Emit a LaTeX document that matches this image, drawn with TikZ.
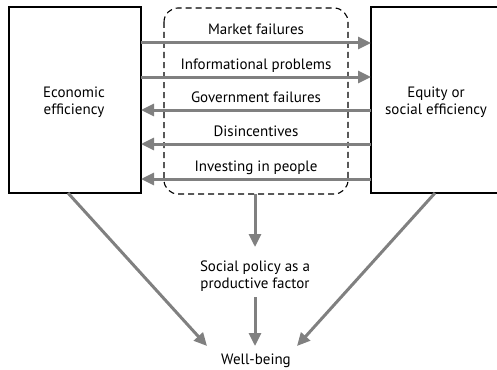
\documentclass[tikz,border=0pt]{standalone}
\usepackage{fontspec}
\setmainfont{PT Sans}
\usetikzlibrary{arrows.meta}
\begin{document}
\begin{tikzpicture}[x=1pt,y=-1pt,
  box/.style={draw=black,line width=1.4pt,fill=white},
  flow/.style={draw=black!50,line width=3pt,-{Triangle[length=13pt,width=12pt]}},
  lbl/.style={font=\fontsize{15}{17}\selectfont,inner sep=0pt,anchor=base,align=center},
  zone/.style={draw=black,line width=1.1pt,dash pattern=on 6pt off 4pt,rounded corners=14pt}]
\useasboundingbox (0,0) rectangle (497,369);

% side boxes (the base anchor of a two-line label is its last baseline)
\draw[box] (9,7) rectangle (141,193);
\draw[box] (371,7) rectangle (499,193);
\node[lbl] (eco) at (74,114) {Economic\\efficiency};
\node[lbl] (equ) at (436,114) {Equity or\\social efficiency};
\coordinate (ecoR) at (141,0);
\coordinate (equL) at (371,0);

% dashed zone of the transmission channels
\draw[zone] (164,8) rectangle (348,194);
\coordinate (zoneB) at (255,194);

% channel arrows
\foreach \y/\t/\d in {43/Market failures/1, 77/Informational problems/1,
  110/Government failures/0, 144/Disincentives/0, 179/Investing in people/0}{
  \node[lbl] (t\y) at (256,\y-8) {\t};
  \ifnum\d=1
    \draw[flow] (ecoR |- 0,\y) -- (equL |- 0,\y);
  \else
    \draw[flow] (equL |- 0,\y) -- (ecoR |- 0,\y);
  \fi
}

% lower part
\node[lbl] (spf) at (255,288) {Social policy as a\\productive factor};
\node[lbl] (wb) at (256,364) {Well-being};
\coordinate (ecoB) at (68,193);
\coordinate (equB) at (435,193);
\coordinate (spfT) at (255,247);
\coordinate (spfB) at (255,297);
\coordinate (wbT) at (255,346);
\coordinate (wbL) at (207,346);
\coordinate (wbR) at (297,346);
\draw[flow] (zoneB) -- (spfT);
\draw[flow] (spfB) -- (wbT);
\draw[flow] (ecoB) -- (wbL);
\draw[flow] (equB) -- (wbR);
\end{tikzpicture}
\end{document}
